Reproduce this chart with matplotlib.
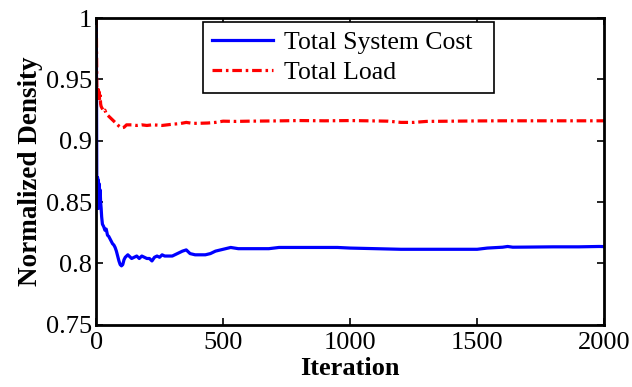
import matplotlib
matplotlib.use('Agg')
import matplotlib.pyplot as plt

# Total System Cost (blue)
cost_iter = [1, 2, 3, 4, 5, 6, 7, 8, 10, 12, 14, 16, 18, 20, 22, 25, 30, 35, 40, 45, 50,
             55, 60, 65, 70, 75, 80, 85, 90, 95, 100, 105, 110, 115, 120, 125, 130, 140,
             150, 160, 170, 180, 190, 200, 210, 220, 230, 240, 250, 260, 270, 280, 290,
             300, 320, 340, 355, 370, 390, 410, 430, 450, 470, 490, 510, 530, 560, 600,
             640, 680, 720, 760, 800, 850, 900, 950, 1000, 1100, 1200, 1300, 1400, 1500,
             1540, 1600, 1620, 1640, 1700, 1800, 1900, 1980, 2000]
cost_val = [1.0, 0.93, 0.86, 0.87, 0.845, 0.87, 0.85, 0.868, 0.845, 0.865, 0.848, 0.86,
            0.85, 0.845, 0.838, 0.832, 0.83, 0.827, 0.828, 0.823, 0.822, 0.82, 0.818,
            0.816, 0.815, 0.813, 0.81, 0.806, 0.802, 0.799, 0.798, 0.799, 0.803, 0.805,
            0.806, 0.807, 0.806, 0.804, 0.805, 0.806, 0.804, 0.806, 0.805, 0.804, 0.804,
            0.802, 0.805, 0.806, 0.805, 0.807, 0.806, 0.806, 0.806, 0.806, 0.808, 0.81,
            0.811, 0.808, 0.807, 0.807, 0.807, 0.808, 0.81, 0.811, 0.812, 0.813, 0.812,
            0.812, 0.812, 0.812, 0.813, 0.813, 0.813, 0.813, 0.813, 0.813, 0.8125, 0.812,
            0.8115, 0.8115, 0.8115, 0.8115, 0.8125, 0.8132, 0.8138, 0.8132, 0.8133,
            0.8135, 0.8135, 0.8138, 0.8137]

# Total Load (red)
load_iter = [1, 2, 3, 4, 5, 6, 7, 8, 10, 12, 14, 16, 18, 20, 25, 30, 35, 40, 50, 55, 60,
             70, 80, 90, 100, 110, 120, 140, 160, 180, 200, 220, 240, 260, 280, 300, 330,
             355, 380, 410, 440, 470, 500, 550, 600, 700, 800, 900, 1000, 1100, 1150,
             1200, 1250, 1300, 1400, 1500, 1600, 1700, 1800, 1900, 2000]
load_val = [1.0, 0.97, 0.945, 0.94, 0.935, 0.944, 0.937, 0.942, 0.935, 0.94, 0.933, 0.937,
            0.93, 0.928, 0.926, 0.924, 0.925, 0.922, 0.92, 0.919, 0.918, 0.916, 0.914,
            0.912, 0.9105, 0.911, 0.913, 0.913, 0.9125, 0.913, 0.9125, 0.913, 0.9128,
            0.9125, 0.913, 0.9135, 0.914, 0.915, 0.9142, 0.9143, 0.9145, 0.915, 0.916,
            0.9158, 0.916, 0.9162, 0.9165, 0.9163, 0.9165, 0.9162, 0.916, 0.915, 0.915,
            0.9158, 0.916, 0.9162, 0.9163, 0.9163, 0.9163, 0.9163, 0.9163]

xticks = [0, 500, 1000, 1500, 2000]
yticks = [0.75, 0.8, 0.85, 0.9, 0.95, 1.0]
ytick_labels = ['0.75', '0.8', '0.85', '0.9', '0.95', '1']

plt.rcParams['font.family'] = 'Liberation Serif'

fig = plt.figure(figsize=(6.32, 3.87), dpi=100)
ax = fig.add_axes([0.152, 0.161, 0.804, 0.792])

ax.plot(cost_iter, cost_val, color='#0000ff', lw=2.3, label='Total System Cost  ')
ax.plot(load_iter, load_val, color='#ff0000', lw=2.3, linestyle=(0, (3, 1.2, 0.8, 1.2)),
        label='Total Load')

ax.set_xlim(0, 2000)
ax.set_ylim(0.75, 1.0)
ax.set_xticks(xticks)
ax.set_yticks(yticks)
ax.set_yticklabels(ytick_labels)
ax.tick_params(direction='in', top=True, right=True, labelsize=19, length=5, width=1.2)
ax.tick_params(axis='x', pad=5.5)
ax.tick_params(axis='y', pad=3)
for s in ax.spines.values():
    s.set_linewidth(2)

ax.set_xlabel('Iteration', fontsize=19, fontweight='bold', labelpad=2)
ax.set_ylabel('Normalized Density', fontsize=19.5, fontweight='bold', labelpad=2)

leg = ax.legend(loc='upper left', bbox_to_anchor=(0.21, 0.987), borderaxespad=0,
                fontsize=18.5, fancybox=False, framealpha=1, edgecolor='black',
                handlelength=2.4, handletextpad=0.4, labelspacing=0.25, borderpad=0.35)
leg.get_frame().set_linewidth(1.2)

fig.savefig('out.png', dpi=100)
